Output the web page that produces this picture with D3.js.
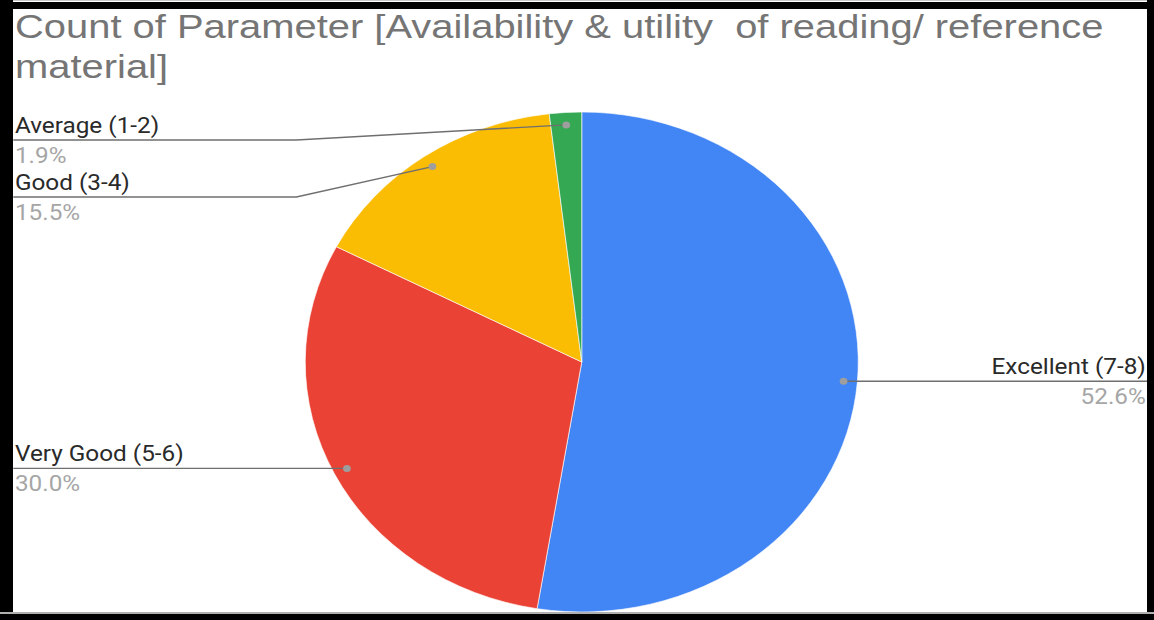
<!DOCTYPE html>
<html>
<head>
<meta charset="utf-8">
<script src="https://cdn.jsdelivr.net/npm/d3@7"></script>
<style>
  html, body { margin: 0; padding: 0; background: #fff; }
  svg { display: block; }
</style>
</head>
<body>
<script>
// chart data
const categories = ["Excellent (7-8)", "Very Good (5-6)", "Good (3-4)", "Average (1-2)"];
const counts = [112, 64, 33, 4];
const colors = ["#4285f4", "#ea4335", "#fbbc04", "#34a853"];
const titleLines = ["Count of Parameter [Availability & utility  of reading/ reference", "material]"];

const W = 1154, H = 620;
const sx = 1.106;          // the original picture is stretched sideways
const cx = 526, cy = 362, r = 250;

var svg = d3.select("body").append("svg")
            .attr("width", W)
            .attr("height", H);

svg.append("rect")
   .attr("width", W).attr("height", H)
   .style("fill", "#fff");

// Title
var title = svg.append("g")
               .attr("transform", "translate(15,0) scale(1.21,1)");
title.selectAll("text")
     .data(titleLines)
     .enter().append("text")
     .attr("x", 0)
     .attr("y", (d, i) => 38 + i * 40)
     .attr("font-family", "'Liberation Sans', Arial, sans-serif")
     .attr("font-size", 33)
     .style("fill", "#757575")
     .style("white-space", "pre")
     .text(d => d);

// Pie
var chart = svg.append("g")
               .attr("transform", "scale(" + sx + ",1)");

var total = d3.sum(counts);
var fmt = d3.format(".1%");
var pie = d3.pie().sort(null).value(d => d.value);
var arcs = pie(categories.map((c, i) => ({ name: c, value: counts[i], color: colors[i] })));

var arc = d3.arc().innerRadius(0).outerRadius(r);
var dotArc = d3.arc().innerRadius(r * 0.95).outerRadius(r * 0.95);

var pieG = chart.append("g").attr("transform", "translate(" + cx + "," + cy + ")");
pieG.selectAll("path")
    .data(arcs)
    .enter().append("path")
    .attr("d", arc)
    .style("fill", d => d.data.color)
    .style("stroke", "#fff")
    .style("stroke-width", 0.6);

// Label layout: right side labels sit level with their dot,
// left side ones are stacked from the top with a minimum gap
const leftX = 12, rightX = 1040, elbowX = 268;
const minLineY = 140, gap = 57;

var labels = arcs.map(d => {
    var p = dotArc.centroid(d);
    var mid = (d.startAngle + d.endAngle) / 2;
    return { d: d, px: cx + p[0], py: cy + p[1], side: mid < Math.PI ? "right" : "left" };
});

var left = labels.filter(l => l.side == "left").sort((a, b) => a.py - b.py);
var prev = minLineY - gap;
left.forEach(l => {
    l.ly = Math.max(l.py, prev + gap);
    prev = l.ly;
});
labels.filter(l => l.side == "right").forEach(l => { l.ly = l.py; });

var lab = chart.selectAll("g.lab")
               .data(labels)
               .enter().append("g")
               .attr("class", "lab");

lab.append("path")
   .attr("d", l => {
       if (l.side == "right") return "M" + l.px + "," + l.py + "H" + rightX;
       if (Math.abs(l.ly - l.py) < 1) return "M" + leftX + "," + l.ly + "H" + l.px;
       return "M" + leftX + "," + l.ly + "H" + elbowX + "L" + l.px + "," + l.py;
   })
   .style("fill", "none")
   .style("stroke", "#6f6f6f")
   .style("stroke-width", 1.4);

lab.append("circle")
   .attr("cx", l => l.px)
   .attr("cy", l => l.py)
   .attr("r", 3.5)
   .style("fill", "#9e9e9e");

lab.append("text")
   .attr("x", l => l.side == "right" ? rightX - 4 : leftX + 1.5)
   .attr("y", l => l.ly - 7)
   .attr("text-anchor", l => l.side == "right" ? "end" : "start")
   .attr("font-family", "Roboto, sans-serif")
   .attr("font-size", 22)
   .style("fill", "#2a2a2a")
   .text(l => l.d.data.name);

lab.append("text")
   .attr("x", l => l.side == "right" ? rightX - 4 : leftX + 1.5)
   .attr("y", l => l.ly + 23)
   .attr("text-anchor", l => l.side == "right" ? "end" : "start")
   .attr("font-family", "Roboto, sans-serif")
   .attr("font-size", 22)
   .style("fill", "#a6a6a6")
   .text(l => fmt(l.d.data.value / total));

// Frame
svg.append("rect").attr("x", 0).attr("y", 0).attr("width", W).attr("height", 1).style("fill", "#c8c8c8");
svg.append("rect").attr("x", 0).attr("y", 2).attr("width", W).attr("height", 7).style("fill", "#000");
svg.append("rect").attr("x", 0).attr("y", 0).attr("width", 13).attr("height", H).style("fill", "#000");
svg.append("rect").attr("x", 1147).attr("y", 0).attr("width", 7).attr("height", H).style("fill", "#000");
svg.append("rect").attr("x", 0).attr("y", 612).attr("width", W).attr("height", 2).style("fill", "#b0b0b0");
svg.append("rect").attr("x", 0).attr("y", 614).attr("width", W).attr("height", 6).style("fill", "#000");
</script>
</body>
</html>
